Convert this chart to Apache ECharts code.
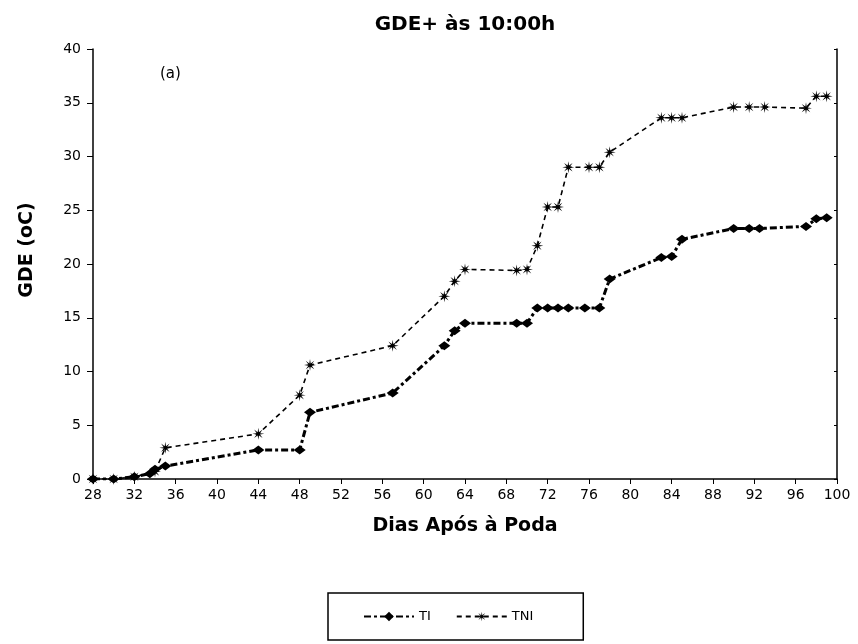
<!DOCTYPE html>
<html>
<head>
<meta charset="utf-8">
<script src="https://cdn.jsdelivr.net/npm/echarts@6/dist/echarts.min.js"></script>
<style>html,body{margin:0;padding:0;background:#fff}#c{width:858px;height:644px}</style>
</head>
<body>
<div id="c"></div>
<script>
var titleText = 'GDE+ às 10:00h';
var xName = 'Dias Após à Poda';
var yName = 'GDE (oC)';
var panelLabel = '(a)';
var seriesNames = ['TI', 'TNI'];
var tiDays = [28, 30, 32, 33.5, 34, 35, 44, 48, 49, 57, 62, 63, 64, 69, 70, 71, 72, 73, 74, 75.6, 77, 78, 83, 84, 85, 90, 91.5, 92.5, 97, 98, 99];
var tiValues = [0, 0, 0.2, 0.5, 0.9, 1.2, 2.7, 2.7, 6.2, 8.0, 12.4, 13.8, 14.5, 14.5, 14.5, 15.9, 15.9, 15.9, 15.9, 15.9, 15.9, 18.6, 20.6, 20.7, 22.3, 23.3, 23.3, 23.3, 23.5, 24.2, 24.3];
var tniDays = [28, 30, 32, 34, 35, 44, 48, 49, 57, 62, 63, 64, 69, 70, 71, 72, 73, 74, 76, 77, 78, 83, 84, 85, 90, 91.5, 93, 97, 98, 99];
var tniValues = [0, 0, 0.2, 0.7, 2.9, 4.2, 7.8, 10.6, 12.4, 17.0, 18.4, 19.5, 19.4, 19.5, 21.7, 25.3, 25.3, 29.0, 29.0, 29.0, 30.4, 33.6, 33.6, 33.6, 34.6, 34.6, 34.6, 34.5, 35.6, 35.6];
var xMin = 28, xMax = 100, xStep = 4;
var yMin = 0, yMax = 40, yStep = 5;

function pairs(xs, ys) { return xs.map(function (x, i) { return [x, ys[i]]; }); }
var starPath = 'path://M50,0L55.7,36.1L85.4,14.6L63.9,44.3L100,50L63.9,55.7L85.4,85.4L55.7,63.9L50,100L44.3,63.9L14.6,85.4L36.1,55.7L0,50L36.1,44.3L14.6,14.6L44.3,36.1Z';
var font = 'DejaVu Sans';

var chart = echarts.init(document.getElementById('c'), null, {renderer: 'canvas'});
chart.setOption({
  animation: false,
  backgroundColor: '#fff',
  title: {
    text: titleText, left: 460, top: 10, textAlign: 'center',
    textStyle: {fontFamily: font, fontWeight: 'bold', fontSize: 20, color: '#000'}
  },
  graphic: [{
    type: 'text', left: 160, top: 67,
    style: {text: panelLabel, font: '15px "DejaVu Sans"', fill: '#000'}
  }],
  legend: {
    left: 328, top: 593,
    orient: 'horizontal',
    borderColor: '#000', borderWidth: 1.5, padding: [17, 50, 17, 35],
    itemWidth: 50, itemHeight: 12, itemGap: 25,
    textStyle: {fontFamily: font, fontSize: 13, color: '#000'},
    data: seriesNames
  },
  grid: {left: 93, right: 21, top: 49, bottom: 165, containLabel: false},
  xAxis: {
    type: 'value', min: xMin, max: xMax, interval: xStep,
    name: xName, nameLocation: 'middle', nameGap: 38,
    nameTextStyle: {fontFamily: font, fontWeight: 'bold', fontSize: 19, color: '#000'},
    axisLine: {lineStyle: {color: '#000', width: 1.5}},
    axisTick: {show: true, length: 5, lineStyle: {color: '#000'}},
    axisLabel: {fontFamily: font, fontSize: 14, color: '#000', margin: 9},
    splitLine: {show: false}
  },
  yAxis: [{
    type: 'value', min: yMin, max: yMax, interval: yStep,
    name: yName, nameLocation: 'middle', nameGap: 56, nameRotate: 90,
    nameTextStyle: {fontFamily: font, fontWeight: 'bold', fontSize: 19, color: '#000', padding: [0, 0, 0, 28]},
    axisLine: {show: true, lineStyle: {color: '#000', width: 1.5}},
    axisTick: {show: true, length: 6, lineStyle: {color: '#000'}},
    axisLabel: {fontFamily: font, fontSize: 14, color: '#000', margin: 12},
    splitLine: {show: false}
  }, {
    type: 'value', min: yMin, max: yMax, interval: yStep, position: 'right',
    axisLine: {show: true, lineStyle: {color: '#000', width: 1.5}},
    axisTick: {show: true, inside: true, length: 3, lineStyle: {color: '#000'}},
    axisLabel: {show: false}, splitLine: {show: false}
  }],
  series: [{
    name: seriesNames[0], type: 'line', data: pairs(tiDays, tiValues),
    symbol: 'diamond', symbolSize: [12, 9],
    itemStyle: {color: '#000'},
    lineStyle: {color: '#000', width: 3, type: [7, 3, 3, 3]}
  }, {
    name: seriesNames[1], type: 'line', data: pairs(tniDays, tniValues),
    symbol: starPath, symbolSize: 12,
    itemStyle: {color: '#000'},
    lineStyle: {color: '#000', width: 1.6, type: [5, 4]}
  }]
});
</script>
</body>
</html>
